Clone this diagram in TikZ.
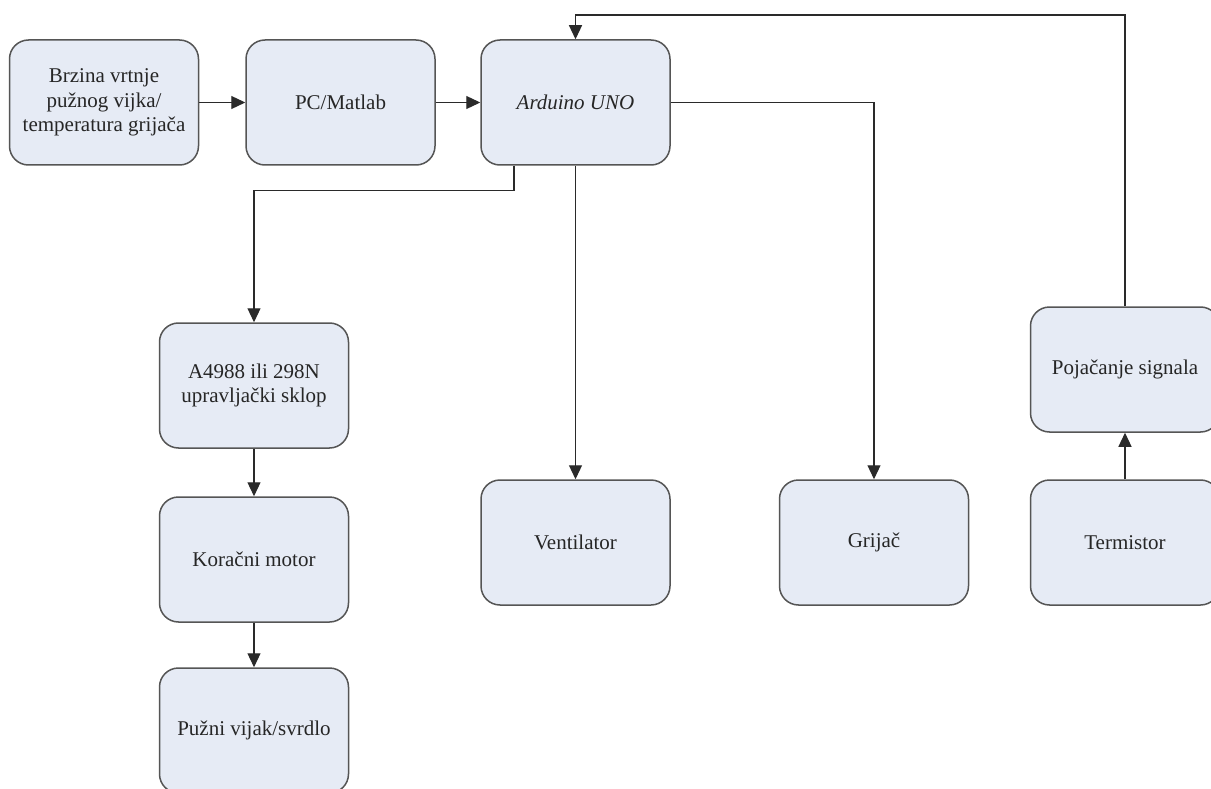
\documentclass[tikz,border=0pt]{standalone}
\usepackage{fontspec}
\setmainfont{Liberation Serif}
\usetikzlibrary{arrows.meta}
\definecolor{boxfill}{HTML}{E6EBF5}
\definecolor{boxline}{HTML}{555555}
\definecolor{txt}{HTML}{262626}
\definecolor{arrline}{HTML}{2A2A2A}
\begin{document}
\begin{tikzpicture}[x=1pt,y=-1pt,
  blk/.style={draw=boxline,fill=boxfill,line width=1.5pt,rounded corners=19pt,
    minimum width=189pt,minimum height=125pt,inner sep=0pt,align=center,
    text=txt,font=\fontsize{21}{24.5}\selectfont},
  arr/.style={draw=arrline,line width=1.2pt,-{Triangle[length=14pt,width=13pt]}}]
\clip (0,0) rectangle (1211,789);
\fill[white] (0,0) rectangle (1211,789);
\node[blk] (b1) at (104,102.5) {Brzina vrtnje\\pužnog vijka/\\temperatura grijača};
\node[blk] (b2) at (340.5,102.5) {PC/Matlab};
\node[blk] (b3) at (575.5,102.5) {\itshape Arduino UNO};
\node[blk] (b4) at (254,385.5) {A4988 ili 298N\\upravljački sklop};
\node[blk] (b5) at (254,559.5) {Koračni motor};
\node[blk] (b6) at (254,730.5) {Pužni vijak/svrdlo};
\node[blk] (b7) at (575.5,542.5) {Ventilator};
\node[blk] (b8) at (874,542.5) {Grijač};
\node[blk] (b9) at (1125,542.5) {Termistor};
\node[blk] (b10) at (1125,369.5) {Pojačanje signala};
\coordinate (top) at (575.5,15);
\draw[arr] (b1) -- (b2);
\draw[arr] (b2) -- (b3);
\draw[arr] ([xshift=-61.5pt]b3.south) -- ++(0,25) -| (b4.north);
\draw[arr] (b3.south) -- (b7.north);
\draw[arr] (b3.east) -| (b8.north);
\draw[arr] (b4) -- (b5);
\draw[arr] (b5) -- (b6);
\draw[arr] (b9) -- (b10);
\draw[arr] (b10.north) |- (top) -- (b3.north);
\end{tikzpicture}
\end{document}
